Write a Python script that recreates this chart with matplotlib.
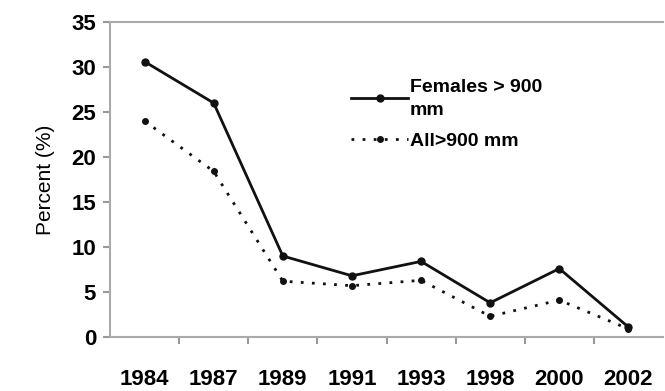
import matplotlib
matplotlib.use("Agg")
import matplotlib.pyplot as plt
import numpy as np

years = ["1984", "1987", "1989", "1991", "1993", "1998", "2000", "2002"]
females = [30.6, 26.0, 9.0, 6.8, 8.4, 3.8, 7.6, 1.1]
all_fish = [24.0, 18.4, 6.2, 5.7, 6.3, 2.3, 4.1, 0.9]
yticks = [0, 5, 10, 15, 20, 25, 30, 35]

plt.rcParams['font.family'] = ['Liberation Sans', 'DejaVu Sans']

fig = plt.figure(figsize=(6.65, 3.91), dpi=100)
ax = fig.add_axes([110/665, 54/391, 553/665, 315/391])

x = np.arange(len(years))
ax.plot(x, females, color='#111111', lw=2, marker='o', ms=5, label='Females > 900\nmm')
ax.plot(x, all_fish, color='#111111', lw=2, ls=(0, (1.0, 3.0)), marker='o', ms=4, label='All>900 mm')

ax.set_xlim(-0.5, 7.5)
ax.set_ylim(0, 35)
ax.set_yticks(yticks)
ax.set_yticklabels([str(v) for v in yticks], fontsize=16, fontweight='bold')
ax.set_xticks(x)
ax.set_xticklabels(years, fontsize=16, fontweight='bold')
ax.set_xticks(np.arange(0.5, 7.5, 1), minor=True)
ax.tick_params(axis='x', which='major', length=0, pad=23)
ax.tick_params(axis='x', which='minor', length=5, width=1.5, color='#999999', direction='out')
ax.tick_params(axis='y', length=5, width=1.5, color='#999999', direction='out', pad=5)

for s in ax.spines.values():
    s.set_color('#aaaaaa')
    s.set_linewidth(1.5)
ax.spines['right'].set_visible(False)

ax.set_ylabel('Percent (%)', fontsize=15, labelpad=12)

leg = ax.legend(loc='upper left', bbox_to_anchor=(0.405, 0.875), frameon=False,
                handlelength=2.9, handletextpad=0.1, labelspacing=0.7,
                prop={'weight': 'bold', 'size': 14})
for t in leg.get_texts():
    t.set_linespacing(1.45)

fig.savefig('out.png', dpi=100)
